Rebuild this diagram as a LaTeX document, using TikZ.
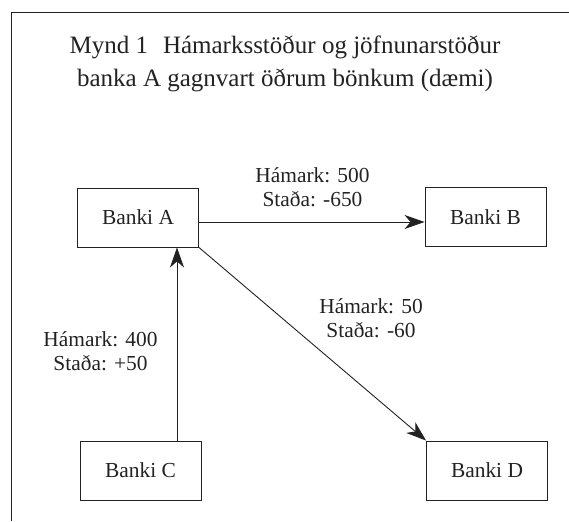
\documentclass[tikz,border=0pt]{standalone}
\usepackage{fontspec}
\setmainfont{Liberation Serif}
\usetikzlibrary{arrows.meta}
\definecolor{ink}{HTML}{222222}
\begin{document}
\begin{tikzpicture}[x=1pt,y=-1pt,
  bank/.style={draw=ink, line width=0.9pt, minimum width=121pt, minimum height=59pt, inner sep=0pt, font=\fontsize{21.4}{24}\selectfont, text=ink},
  lbl/.style={align=center, inner sep=0pt, font=\fontsize{21.4}{24}\selectfont, text=ink},
  conn/.style={draw=ink, line width=0.9pt, -{Stealth[length=20pt,width=14pt,inset=6pt]}}
]
\useasboundingbox (0,0) rectangle (569,521);
\draw[ink, line width=0.9pt] (11.5,521) -- (11.5,12.5) -- (569,12.5);
\node[align=center, inner sep=0pt, text=ink, font=\fontsize{25}{33}\selectfont, anchor=base] (title) at (285,87)
  {Mynd 1\hspace{0.6em}Hámarksstöður og jöfnunarstöður\\banka A gagnvart öðrum bönkum (dæmi)};
\node[bank] (A) at (138,217.5) {Banki A};
\node[bank] (B) at (485.5,217) {Banki B};
\node[bank] (C) at (140.5,470.5) {Banki C};
\node[bank] (D) at (487,470.5) {Banki D};
\draw[conn] (A.east |- 0,222) -- (B.west |- 0,222);
\draw[conn] (A.south east) -- (D.north west);
\draw[conn] (C.north -| 177,0) -- (A.south -| 177,0);
\node[lbl] (l1) at (312.5,187) {Hámark: 500\\Staða: -650};
\node[lbl] (l2) at (371,318) {Hámark: 50\\Staða: -60};
\node[lbl] (l3) at (100.5,351) {Hámark: 400\\Staða: +50};
\end{tikzpicture}
\end{document}
